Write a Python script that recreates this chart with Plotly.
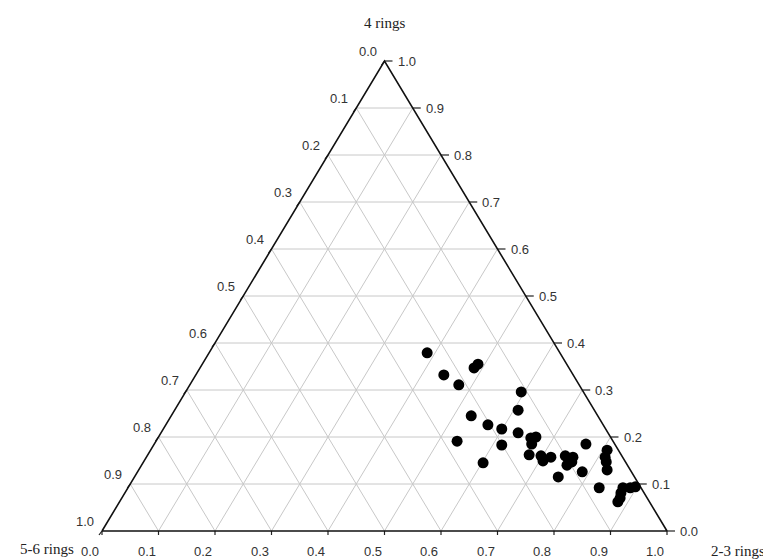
import plotly.graph_objects as go

# ---------------- data (ternary compositions) ----------------
rings_4 = [0.379, 0.355, 0.347, 0.332, 0.311, 0.296, 0.257, 0.245, 0.226, 0.217,
           0.209, 0.191, 0.198, 0.200, 0.183, 0.185, 0.162, 0.160, 0.149, 0.157,
           0.145, 0.160, 0.157, 0.147, 0.140, 0.185, 0.126, 0.115, 0.172, 0.157,
           0.147, 0.130, 0.092, 0.092, 0.092, 0.094, 0.081, 0.070, 0.062]
rings_23 = [0.386, 0.488, 0.485, 0.439, 0.476, 0.594, 0.608, 0.531, 0.570, 0.599,
            0.632, 0.533, 0.660, 0.668, 0.616, 0.668, 0.675, 0.697, 0.706, 0.716,
            0.602, 0.740, 0.755, 0.758, 0.753, 0.764, 0.787, 0.750, 0.808, 0.812,
            0.819, 0.829, 0.834, 0.876, 0.889, 0.897, 0.878, 0.882, 0.882]
rings_56 = [0.235, 0.157, 0.168, 0.229, 0.213, 0.110, 0.135, 0.224, 0.204, 0.184,
            0.159, 0.276, 0.142, 0.132, 0.201, 0.147, 0.163, 0.143, 0.145, 0.127,
            0.253, 0.100, 0.088, 0.095, 0.107, 0.051, 0.087, 0.135, 0.020, 0.031,
            0.034, 0.041, 0.074, 0.032, 0.019, 0.009, 0.041, 0.048, 0.056]

tick_vals = [0.0, 0.1, 0.2, 0.3, 0.4, 0.5, 0.6, 0.7, 0.8, 0.9, 1.0]
tick_text = ["0.0", "0.1", "0.2", "0.3", "0.4", "0.5", "0.6", "0.7", "0.8", "0.9", "1.0"]
title_top, title_left, title_right = "4 rings", "5-6 rings", "2-3 rings"

# ---------------- geometry (figure pixels; page body adds an 8px margin) ----------------
W, H = 771, 560
OFF = 8
X0, X1 = 102 - OFF, 667 - OFF   # bottom-left / bottom-right vertices
YB, YT = 531 - OFF, 61 - OFF    # base / apex
SX = X1 - X0
SY = YB - YT


def to_xy(a, c):
    """a: top component (4 rings), c: bottom-right component (2-3 rings)."""
    return c + a / 2.0, a


fig = go.Figure()

# grid lines
gx, gy = [], []
for v in tick_vals[1:-1]:
    for p0, p1 in [((v, 0.0), (v, 1 - v)),
                   ((0.0, v), (1 - v, v)),
                   ((0.0, 1 - v), (1 - v, 0.0))]:
        for p in (p0, p1):
            x, y = to_xy(*p); gx.append(x); gy.append(y)
        gx.append(None); gy.append(None)
fig.add_trace(go.Scatter(x=gx, y=gy, mode="lines", line=dict(color="#c8c8c8", width=1),
                         hoverinfo="skip"))

# ticks
tx, ty = [], []
for v in tick_vals:
    x, y = to_xy(v, 1 - v)                 # right side (4 rings)
    tx += [x, x + 8 / SX, None]; ty += [y, y, None]
    x, y = to_xy(1 - v, 0.0)               # left side (5-6 rings)
    tx += [x, x - 3 / SX, None]; ty += [y, y - 4 / SY, None]
    x, y = to_xy(0.0, v)                   # bottom (2-3 rings)
    tx += [x, x, None]; ty += [y, y - 4 / SY, None]
fig.add_trace(go.Scatter(x=tx, y=ty, mode="lines", line=dict(color="#222222", width=1.2),
                         hoverinfo="skip"))

# triangle outline
ox, oy = [], []
for p in [(0.0, 0.0), (0.0, 1.0), (1.0, 0.0), (0.0, 0.0)]:
    x, y = to_xy(*p); ox.append(x); oy.append(y)
fig.add_trace(go.Scatter(x=ox, y=oy, mode="lines", line=dict(color="#111111", width=1.6),
                         hoverinfo="skip"))

# data points
px, py = [], []
for a, b, c in zip(rings_4, rings_56, rings_23):
    s = a + b + c
    x, y = to_xy(a / s, c / s)
    px.append(x); py.append(y)
fig.add_trace(go.Scatter(x=px, y=py, mode="markers",
                         marker=dict(color="black", size=11, line=dict(width=0))))

ann = []
tf = dict(family="Liberation Sans, Arial, sans-serif", size=13, color="#333333")
for v, t in zip(tick_vals, tick_text):
    x, y = to_xy(v, 1 - v)
    ann.append(dict(x=x, y=y, text=t, showarrow=False, xanchor="left", yanchor="middle",
                    xshift=11, font=tf))
    x, y = to_xy(1 - v, 0.0)
    ann.append(dict(x=x, y=y, text=t, showarrow=False, xanchor="right", yanchor="middle",
                    xshift=-6, yshift=10, font=tf))
    x, y = to_xy(0.0, v)
    ann.append(dict(x=x, y=y, text=t, showarrow=False, xanchor="center", yanchor="middle",
                    xshift=-12, yshift=-20, font=tf))

sf = dict(family="Liberation Serif, Times New Roman, serif", size=15, color="#222222")
x, y = to_xy(1.0, 0.0)
ann.append(dict(x=x, y=y, text=title_top, showarrow=False, yshift=38, font=sf))
x, y = to_xy(0.0, 0.0)
ann.append(dict(x=x, y=y, text=title_left, showarrow=False, xshift=-55, yshift=-18, font=sf))
x, y = to_xy(0.0, 1.0)
ann.append(dict(x=x, y=y, text=title_right, showarrow=False, xshift=71, yshift=-20, font=sf))

fig.update_layout(
    width=W, height=H, margin=dict(l=0, r=0, t=0, b=0),
    paper_bgcolor="white", plot_bgcolor="white", showlegend=False,
    xaxis=dict(range=[-X0 / SX, (W - X0) / SX], visible=False, fixedrange=True),
    yaxis=dict(range=[-(H - YB) / SY, YB / SY], visible=False, fixedrange=True),
    annotations=ann,
)
fig.write_html("out.html")
